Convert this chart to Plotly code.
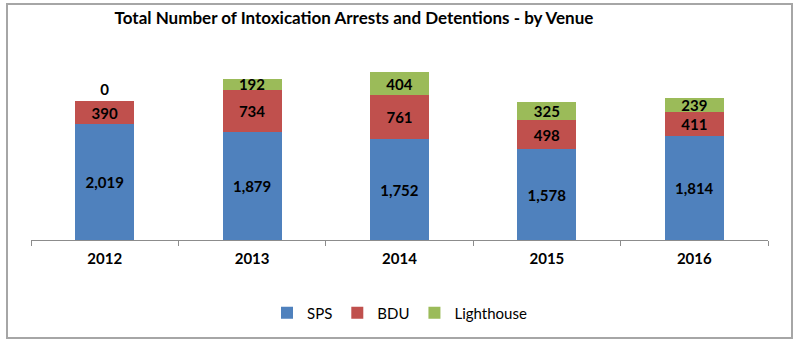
import plotly.graph_objects as go

years = ["2012", "2013", "2014", "2015", "2016"]
sps = [2019, 1879, 1752, 1578, 1814]
bdu = [390, 734, 761, 498, 411]
lighthouse = [0, 192, 404, 325, 239]

series = [
    ("SPS", sps, "#4F81BD"),
    ("BDU", bdu, "#C0504D"),
    ("Lighthouse", lighthouse, "#9BBB59"),
]

FONT = "Lato, Carlito, Calibri, sans-serif"

fig = go.Figure()
for name, vals, color in series:
    # zero-height segments carry their label just above the stack
    positions = ["outside" if v == 0 else "inside" for v in vals]
    fig.add_trace(go.Bar(
        x=years,
        y=vals,
        name=name,
        marker=dict(color=color, line=dict(width=0)),
        text=[f"{v:,}" for v in vals],
        textposition=positions,
        insidetextanchor="middle",
        textangle=0,
        constraintext="none",
        cliponaxis=False,
        textfont=dict(family=FONT, size=15, color="black", weight="bold"),
        hoverinfo="skip",
    ))

fig.update_layout(
    width=800,
    height=344,
    barmode="stack",
    bargap=0.6,
    plot_bgcolor="white",
    paper_bgcolor="white",
    margin=dict(l=31, r=32, t=50, b=104),
    font=dict(family=FONT, color="black"),
    title=dict(
        text="Total Number of Intoxication Arrests and Detentions - by Venue",
        x=0.4425, xref="container", xanchor="center",
        y=1 - 18 / 344, yref="container", yanchor="middle",
        font=dict(family=FONT, size=17, color="black", weight="bold"),
    ),
    xaxis=dict(
        type="category",
        showline=True,
        linecolor="#8c8c8c",
        linewidth=1,
        ticks="outside",
        tickson="boundaries",
        ticklen=5,
        tickcolor="#8c8c8c",
        ticklabelstandoff=5,
        tickfont=dict(family=FONT, size=15, color="black", weight="bold"),
        showgrid=False,
    ),
    yaxis=dict(
        range=[0, 3300],
        visible=False,
        showgrid=False,
        zeroline=False,
    ),
    legend=dict(
        orientation="h",
        x=0.5, xanchor="center",
        y=(240 - 313) / 190, yanchor="middle",
        font=dict(family=FONT, size=15, color="black"),
        itemsizing="constant",
        itemwidth=30,
        traceorder="normal",
    ),
    showlegend=True,
    shapes=[dict(
        type="rect", xref="paper", yref="paper",
        x0=(7 - 31) / 737, x1=(792 - 31) / 737,
        y0=(240 - 338) / 190, y1=(240 - 4) / 190,
        line=dict(color="#a6a6a6", width=2),
        fillcolor="rgba(0,0,0,0)",
        layer="below",
    )],
)

fig.write_html("out.html")
